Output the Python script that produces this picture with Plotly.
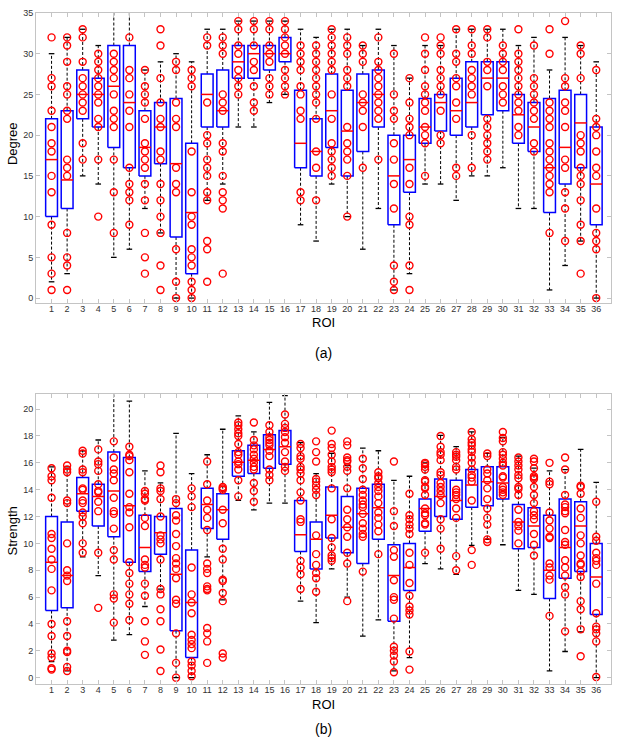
import plotly.graph_objects as go

rois = list(range(1, 37))

# ---- Panel (a): Degree ----
deg_lo  = [2, 3, 15, 14, 5, 6, 11, 8, 0, 0, 12, 14, 21, 21, 24, 25, 9, 7, 14, 10, 6, 11, 1, 3,
           14, 14, 12, 15, 15, 16, 11, 11, 1, 4, 7, 0]
deg_q1  = [10, 11, 22, 21, 18.5, 16, 15, 16.5, 7.5, 3, 21, 21, 27, 27, 28, 29, 16, 15, 18.5, 15, 18, 21, 9, 13,
           19, 20.5, 20, 21, 22.5, 23, 19, 18, 10.5, 14, 16, 9]
deg_med = [17, 14.5, 25, 25, 26, 24, 18.5, 21, 16.5, 10.5, 25, 23, 29, 30, 30, 30, 19, 18, 23, 20.5, 24, 25, 15, 17,
           21, 24, 23, 24, 27, 27, 22.5, 21, 16, 18.5, 21.5, 14]
deg_q3  = [22, 23, 28, 27, 31, 31, 23, 24, 24.5, 19, 27.5, 28, 31, 31, 31, 32, 25.5, 22, 27.5, 25.5, 27.5, 28, 20, 20,
           24.5, 25, 27, 29, 29, 29, 25, 24, 24.5, 25.5, 25, 21]
deg_hi  = [30, 32, 33, 31, 36, 36, 28, 29, 30, 29, 33, 33, 34, 34, 34, 34, 33, 32, 33, 33, 31, 33, 31, 27,
           31, 31, 33, 33, 33, 33, 31, 32, 28, 32, 31, 29]
deg_pts = [
    [32, 27, 26, 23, 21, 19, 18, 15, 13, 9, 5, 3, 1],
    [32, 31, 29, 26, 25, 23, 22, 17, 16, 15, 8, 5, 4, 1],
    [33, 32, 29, 27, 26, 25, 24, 23, 19, 17],
    [30, 29, 28, 27, 26, 25, 24, 22, 21, 17, 10],
    [30, 29, 28, 27, 25, 23, 22, 21, 17, 13, 8],
    [32, 28, 27, 25, 23, 21, 16, 14, 13, 12, 9],
    [28, 26, 25, 24, 22, 19, 18, 17, 16, 14, 12, 8, 5, 3],
    [33, 31, 27, 24, 22, 21, 18, 17, 14, 12, 10, 8, 4, 1],
    [29, 28, 24, 22, 21, 16, 14, 13, 6, 2, 0],
    [28, 27, 26, 18, 13, 10, 9, 6, 5, 4, 2, 1, 0],
    [32, 31, 24, 20, 19, 17, 16, 15, 13, 12, 7, 6, 2],
    [32, 31, 30, 25, 24, 23, 19, 18, 15, 13, 12, 11, 3],
    [34, 33, 31, 30, 28, 27, 26, 25],
    [34, 33, 31, 29, 28, 26, 24, 23],
    [34, 33, 31, 30, 29, 27, 26, 25],
    [34, 33, 32, 31, 30, 28, 27, 26, 25],
    [31, 30, 29, 28, 26, 25, 23, 22, 13, 12],
    [31, 30, 29, 28, 27, 26, 25, 24, 22, 18, 16, 12],
    [33, 32, 31, 30, 29, 28, 25, 22, 19, 18, 17, 16, 15],
    [32, 31, 30, 28, 27, 26, 21, 19, 18, 17, 15, 10],
    [31, 30, 29, 25, 24, 23, 21, 16],
    [32, 29, 28, 27, 26, 25, 24, 23, 22, 17],
    [30, 25, 23, 22, 19, 17, 14, 11, 4, 2, 1],
    [27, 24, 22, 21, 20, 16, 14, 10, 9, 4, 1],
    [32, 30, 28, 26, 25, 24, 23, 21, 20, 19, 15],
    [32, 31, 30, 28, 27, 26, 25, 23, 20, 19],
    [33, 30, 29, 27, 26, 24, 22, 16, 15],
    [33, 31, 30, 28, 27, 26, 25, 20, 16],
    [33, 32, 29, 28, 26, 22, 21, 20, 19, 18, 17],
    [31, 30, 29, 28, 26, 25, 24],
    [33, 30, 29, 28, 27, 26, 25, 24, 23, 21, 20],
    [31, 27, 26, 25, 24, 23, 22, 19, 18],
    [33, 30, 24, 23, 22, 21, 19, 18, 17, 16, 15, 14, 13, 8],
    [34, 27, 26, 24, 23, 21, 17, 16, 13, 11, 7],
    [31, 30, 27, 20, 19, 18, 16, 15, 14, 12, 9, 7, 3],
    [28, 22, 21, 20, 18, 16, 15, 11, 8, 7, 6, 0],
]

# ---- Panel (b): Strength ----
str_lo  = [1.2, 0.5, 9.0, 7.6, 2.8, 3.2, 5.3, 6.6, 0, 0, 9.0, 5.8, 13.2, 12.5, 13.0, 13.0, 5.7, 4.1, 8.1, 6.0,
           3.1, 4.3, 0.5, 1.5, 8.5, 8.1, 7.7, 9.85, 10.3, 9.9, 6.5, 6.2, 0.5, 1.95, 3.4, 0]
str_q1  = [5.0, 5.2, 12.4, 11.3, 10.5, 8.6, 7.9, 9.2, 3.5, 1.5, 11.1, 10.3, 15.0, 15.2, 15.6, 15.9, 9.4, 8.1, 10.4, 9.3,
           8.5, 10.3, 4.2, 6.5, 10.9, 12.0, 11.8, 12.7, 12.8, 13.3, 9.6, 9.7, 5.9, 7.4, 7.9, 4.7]
str_med = [8.6, 7.6, 13.7, 13.5, 13.9, 12.8, 9.7, 10.8, 7.7, 5.6, 12.9, 12.5, 16.05, 16.2, 17.0, 17.2, 10.65, 10.3, 12.1, 11.2,
           12.2, 12.65, 7.6, 8.2, 12.6, 13.5, 13.2, 14.35, 14.6, 14.5, 11.6, 11.3, 8.0, 9.7, 11.3, 7.5]
str_q3  = [12.0, 11.6, 14.9, 14.4, 16.8, 16.4, 12.1, 12.0, 12.6, 9.5, 14.1, 13.7, 16.9, 17.3, 18.1, 18.4, 13.2, 11.6, 14.2, 13.5,
           14.1, 14.4, 9.9, 10.0, 13.3, 14.8, 14.7, 15.5, 15.7, 15.7, 12.9, 12.65, 12.1, 13.3, 13.1, 10.0]
str_hi  = [15.7, 15.7, 16.9, 17.7, 22, 20.6, 15.4, 14.5, 18.2, 15.2, 16.6, 18.5, 19.5, 18.3, 20.5, 21.0, 17.5, 15.2, 16.7, 15.8,
           17.1, 16.9, 14.7, 15.0, 16.0, 18.05, 17.2, 18.3, 16.7, 17.9, 16.5, 15.6, 15.4, 15.5, 17.0, 14.55]
str_pts = [
    [15.6, 15.0, 14.7, 13.4, 10.7, 10.4, 9.6, 8.8, 8.1, 6.5, 4.0, 3.1, 1.8, 1.5, 0.7, 0.6],
    [15.8, 15.5, 15.3, 13.2, 13.0, 10.0, 8.0, 7.6, 7.2, 4.2, 3.1, 2.0, 1.9, 0.8, 0.5],
    [16.9, 16.7, 15.5, 15.3, 14.1, 14.0, 13.2, 13.0, 12.3, 12.0, 11.5, 10.0, 9.3],
    [17.0, 16.1, 15.9, 15.4, 14.4, 13.9, 13.8, 13.1, 12.4, 9.3, 5.2],
    [17.6, 16.4, 15.5, 15.2, 14.7, 13.4, 12.4, 12.2, 11.1, 9.5, 8.8, 6.2, 5.9, 4.1],
    [17.2, 16.6, 16.5, 16.2, 15.3, 13.7, 12.7, 12.3, 11.2, 8.6, 7.8, 7.0, 6.2, 5.5, 4.3],
    [13.9, 13.7, 13.3, 13.2, 11.9, 11.3, 8.8, 8.4, 8.2, 7.0, 6.1, 4.2, 2.7, 1.7],
    [15.8, 15.3, 14.1, 13.9, 13.3, 12.0, 10.6, 10.3, 10.0, 8.8, 6.6, 6.2, 5.1, 4.2, 2.1, 0.5],
    [13.3, 13.0, 12.1, 11.7, 10.7, 9.8, 8.9, 8.5, 8.1, 7.4, 5.8, 5.5, 3.3, 1.1, 0.0],
    [14.1, 13.5, 12.7, 8.2, 6.2, 5.6, 4.8, 3.2, 2.8, 2.5, 2.2, 1.2, 0.9, 0.5, 0.1],
    [16.1, 14.4, 13.2, 12.5, 11.9, 11.0, 8.5, 8.1, 7.8, 6.8, 6.6, 6.5, 3.7, 3.3, 2.7, 1.1],
    [14.2, 14.1, 14.0, 12.5, 11.5, 9.6, 8.8, 7.3, 7.2, 6.3, 5.7, 1.8, 1.5],
    [19.0, 18.8, 18.5, 18.2, 18.0, 17.4, 16.8, 16.6, 16.1, 15.9, 15.5, 14.7, 13.5],
    [19.0, 17.7, 17.3, 17.0, 16.6, 16.3, 16.0, 15.7, 15.5, 14.5, 13.9, 13.1],
    [18.8, 18.3, 17.9, 17.7, 17.5, 17.3, 16.9, 16.5, 15.5, 15.1, 14.7],
    [19.6, 18.9, 18.6, 18.3, 17.9, 17.5, 16.8, 16.1, 15.7, 15.4],
    [17.4, 17.1, 16.5, 16.3, 15.7, 15.5, 15.2, 14.7, 13.8, 13.2, 11.8, 11.6, 8.7, 8.2, 7.7, 6.6],
    [17.6, 16.8, 16.1, 14.8, 14.6, 14.3, 14.0, 13.6, 10.6, 9.2, 8.4, 7.8, 7.4, 6.4],
    [18.4, 17.4, 17.1, 16.6, 16.1, 15.7, 15.5, 15.3, 14.1, 11.8, 10.4, 9.7, 9.1, 8.9, 8.7],
    [17.6, 17.3, 16.4, 16.2, 16.1, 15.7, 15.4, 14.1, 12.5, 11.8, 11.2, 10.5, 9.3, 8.5, 5.7],
    [16.3, 15.6, 14.8, 14.0, 13.6, 13.2, 12.9, 12.7, 12.2, 11.5, 11.1, 10.7, 10.5, 7.9],
    [15.3, 15.0, 14.85, 14.5, 14.2, 13.9, 13.5, 13.0, 12.3, 11.9, 11.4, 10.9, 9.2],
    [16.1, 12.4, 11.3, 9.5, 9.0, 7.25, 6.0, 5.8, 4.4, 2.3, 2.0, 1.65, 1.2, 0.4],
    [13.7, 12.1, 11.8, 11.4, 11.1, 10.7, 9.3, 8.4, 7.05, 6.1, 5.3, 5.0, 4.7, 1.95, 0.6],
    [16.0, 15.9, 15.7, 15.5, 14.7, 14.6, 14.2, 14.1, 13.6, 12.6, 12.25, 12.1, 11.5, 11.4, 9.3],
    [18.0, 17.2, 16.8, 16.6, 16.2, 15.3, 15.1, 14.5, 14.2, 13.9, 13.6, 13.0, 11.8, 11.1, 9.6],
    [16.8, 16.6, 16.45, 16.2, 15.7, 15.5, 14.0, 13.8, 13.6, 13.3, 12.6, 11.9, 9.05, 8.0],
    [18.3, 17.75, 17.5, 17.3, 17.0, 16.8, 16.4, 16.0, 15.5, 15.1, 14.9, 14.6, 13.2, 9.5, 8.4],
    [16.7, 16.5, 15.5, 15.2, 14.7, 14.1, 13.3, 12.6, 11.9, 11.4, 10.3, 10.1],
    [18.3, 17.85, 17.6, 16.8, 16.6, 16.3, 16.0, 15.8, 15.0, 14.9, 14.2, 14.0, 13.8, 13.6],
    [16.4, 16.1, 15.8, 15.5, 15.1, 14.85, 14.2, 14.05, 13.6, 12.5, 11.6, 11.3, 10.95, 10.0],
    [16.3, 16.1, 15.6, 15.0, 14.9, 14.8, 14.2, 13.6, 13.0, 12.4, 12.1, 11.8, 10.7, 9.9, 9.1],
    [16.0, 14.6, 14.4, 12.3, 11.7, 11.1, 10.5, 10.4, 8.5, 8.2, 7.6, 7.3, 4.6],
    [16.4, 15.5, 13.6, 12.9, 12.7, 12.4, 12.25, 11.0, 10.1, 9.9, 8.75, 8.2, 7.6, 6.75, 6.2, 3.45],
    [14.3, 14.2, 13.7, 12.6, 11.9, 10.6, 10.0, 9.1, 8.5, 8.4, 7.9, 7.5, 5.7, 5.1, 3.6, 1.6],
    [13.1, 10.5, 10.2, 9.3, 8.9, 8.7, 8.4, 7.0, 4.8, 3.8, 3.6, 3.3, 2.7, 0.05],
]

BOX_HW = 0.38
CAP_HW = 0.18

fig = go.Figure()


def add_panel(lo, q1, med, q3, hi, pts, xa, ya):
    wx, wy, cx, cy, bx, by, mx, my, px, py = [], [], [], [], [], [], [], [], [], []
    for i, r in enumerate(rois):
        wx += [r, r, None, r, r, None]
        wy += [q3[i], hi[i], None, q1[i], lo[i], None]
        cx += [r - CAP_HW, r + CAP_HW, None, r - CAP_HW, r + CAP_HW, None]
        cy += [hi[i], hi[i], None, lo[i], lo[i], None]
        bx += [r - BOX_HW, r + BOX_HW, r + BOX_HW, r - BOX_HW, r - BOX_HW, None]
        by += [q1[i], q1[i], q3[i], q3[i], q1[i], None]
        mx += [r - BOX_HW, r + BOX_HW, None]
        my += [med[i], med[i], None]
        for v in pts[i]:
            px.append(r)
            py.append(v)
    common = dict(xaxis=xa, yaxis=ya, showlegend=False, hoverinfo="skip")
    fig.add_trace(go.Scatter(x=wx, y=wy, mode="lines",
                             line=dict(color="black", width=1, dash="3px,2px"), **common))
    fig.add_trace(go.Scatter(x=cx, y=cy, mode="lines",
                             line=dict(color="black", width=1.3), **common))
    fig.add_trace(go.Scatter(x=bx, y=by, mode="lines",
                             line=dict(color="#0000FF", width=1.5), **common))
    fig.add_trace(go.Scatter(x=mx, y=my, mode="lines",
                             line=dict(color="#FF0000", width=1.5), **common))
    fig.add_trace(go.Scatter(x=px, y=py, mode="markers",
                             marker=dict(symbol="circle-open", size=7, color="#FF0000",
                                         line=dict(width=1.4, color="#FF0000")),
                             cliponaxis=False, **common))


add_panel(deg_lo, deg_q1, deg_med, deg_q3, deg_hi, deg_pts, "x", "y")
add_panel(str_lo, str_q1, str_med, str_q3, str_hi, str_pts, "x2", "y2")

W, H = 619, 741


def px_x(p):
    return p / W


def px_y(p):
    return 1 - p / H


xdom = [px_x(36), px_x(611)]
axis_common = dict(showline=True, linecolor="#c4c4c4", linewidth=1, mirror="ticks",
                   ticks="inside", ticklen=4, tickcolor="#c4c4c4", showgrid=False,
                   zeroline=False, ticklabeloverflow="allow",
                   tickfont=dict(family="Liberation Sans, Arial", size=9, color="#333333"))

fig.update_layout(
    width=W, height=H, autosize=False,
    margin=dict(l=0, r=0, t=0, b=0),
    paper_bgcolor="white", plot_bgcolor="white",
    font=dict(family="Liberation Sans, Arial", color="black"),
    xaxis=dict(domain=xdom, range=[0, 36.95], tickvals=rois, ticktext=[str(r) for r in rois],
               anchor="y", ticklabelstandoff=-3, **axis_common),
    yaxis=dict(domain=[px_y(300), px_y(8)], range=[-0.6, 35.001], tickvals=[0, 5, 10, 15, 20, 25, 30, 35],
               anchor="x", **axis_common),
    xaxis2=dict(domain=xdom, range=[0, 36.95], tickvals=rois, ticktext=[str(r) for r in rois],
                anchor="y2", ticklabelstandoff=-3, **axis_common),
    yaxis2=dict(domain=[px_y(684), px_y(392)], range=[-0.5, 21.1],
                tickvals=[0, 2, 4, 6, 8, 10, 12, 14, 16, 18, 20], anchor="x2", **axis_common),
)

cx_mid = px_x((36 + 611) / 2)
for text, ypix, size in [("ROI", 320, 13), ("(a)", 350, 14), ("ROI", 704, 13), ("(b)", 729, 14)]:
    fig.add_annotation(text=text, x=cx_mid, y=px_y(ypix), xref="paper", yref="paper",
                       showarrow=False, xanchor="center", yanchor="middle",
                       font=dict(size=size, color="black"))
for text, ypix in [("Degree", 140), ("Strength", 530)]:
    fig.add_annotation(text=text, x=px_x(12), y=px_y(ypix), xref="paper", yref="paper",
                       showarrow=False, textangle=-90, xanchor="center", yanchor="middle",
                       font=dict(size=13, color="black"))

# remove the browser's default body margin so the figure sits at the page origin
fig.write_html("out.html", config={"displayModeBar": False},
               post_script="document.body.style.margin='0px';document.body.style.overflow='hidden';")
